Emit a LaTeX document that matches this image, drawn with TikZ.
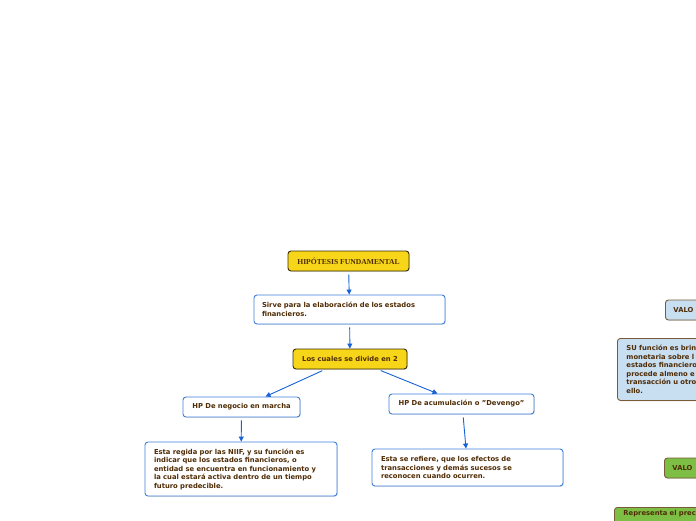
\documentclass[tikz,border=0pt]{standalone}
\usepackage{fontspec}
\setmainfont{DejaVu Sans}
\newfontfamily\titlefont{Liberation Serif}
\usepackage{tikz}
\usetikzlibrary{positioning,arrows.meta,shadows}

\definecolor{ybox}{HTML}{F7D619}
\definecolor{yline}{HTML}{3A2C05}
\definecolor{bline}{HTML}{3D7FD9}
\definecolor{txt}{HTML}{4F2C05}
\definecolor{lblue}{HTML}{C8DEF1}
\definecolor{lgreen}{HTML}{7DBF45}
\definecolor{bbrown}{HTML}{7A5A38}
\definecolor{arrowc}{HTML}{1662D6}

\tikzset{
  base/.style={rounded corners=3pt, line width=0.9pt, text=txt,
    font=\bfseries\fontsize{6.8}{8.5}\selectfont,
    drop shadow={opacity=0.25, shadow xshift=0.8pt, shadow yshift=-0.8pt}},
  yellowbox/.style={base, draw=yline, fill=ybox, minimum height=20pt},
  whitebox/.style={base, draw=bline, fill=white, minimum height=20pt},
  textbox/.style={base, draw=bline, fill=white, align=left, inner xsep=8pt},
  valuebox/.style={base, draw=bbrown, fill=lblue, minimum height=20pt, anchor=west, minimum width=60pt, text width=44pt, inner xsep=8pt, align=left},
  greenbox/.style={base, draw=bbrown, fill=lgreen, minimum height=20pt, anchor=west, minimum width=60pt, text width=44pt, inner xsep=8pt, align=left},
  flow/.style={draw=arrowc, line width=0.9pt, -{Triangle[length=5pt,width=5pt]}, shorten <=3pt}
}

\begin{document}
\begin{tikzpicture}[x=1pt,y=-1pt]
  \useasboundingbox (0,0) rectangle (696,520);
  \clip (0,0) rectangle (696,520);

  % main column
  \node[yellowbox, minimum width=121pt, font=\titlefont\bfseries\fontsize{7.6}{8}\selectfont] (hipotesis) at (348.5,261) {HIPÓTESIS FUNDAMENTAL};
  \node[textbox, minimum width=191pt, minimum height=29pt, text width=175pt] (sirve) at (349.5,309.5)
    {Sirve para la elaboración de los estados\\financieros.};
  \node[yellowbox, minimum width=114pt] (cuales) at (350,359) {Los cuales se divide en 2};

  % left branch
  \node[whitebox, minimum width=117pt] (negocio) at (241.5,407) {HP De negocio en marcha};
  \node[textbox, minimum width=192pt, minimum height=54pt, text width=174pt, inner xsep=9pt] (negociotxt) at (241,469)
    {Esta regida por las NIIF, y su función es\\indicar que los estados financieros, o\\entidad se encuentra en funcionamiento y\\la cual estará activa dentro de un tiempo\\futuro predecible.};

  % right branch
  \node[whitebox, minimum width=145pt] (acum) at (461.5,404) {HP De acumulación o "Devengo"};
  \node[textbox, minimum width=191pt, minimum height=37pt, text width=173pt, inner xsep=9pt] (acumtxt) at (467.5,467.5)
    {Esta se refiere, que los efectos de\\transacciones y demás sucesos se\\reconocen cuando ocurren.};

  % cut-off nodes at the right edge
  \node[valuebox] (valor1) at (665,310) {VALO};
  \node[base, draw=bbrown, fill=lblue, anchor=north west, minimum width=100pt, minimum height=62pt, text width=82pt, inner xsep=9pt, align=left] (valor1txt) at (617,338)
    {SU función es brin\\monetaria sobre l\\estados financiero\\procede almeno e\\transacción u otro\\ello.};
  \node[greenbox] (valor2) at (664,468) {VALO};
  \node[base, draw=bbrown, fill=lgreen, anchor=north west, minimum width=100pt, text width=82pt, inner xsep=9pt, inner ysep=3pt, text depth=12pt, align=left] (valor2txt) at (614,507)
    {Representa el prec};

  % connectors
  \draw[flow] (hipotesis) -- (sirve);
  \draw[flow] (sirve) -- (cuales);
  \draw[flow] ([xshift=-25pt]cuales.south) -- ([xshift=24pt]negocio.north);
  \draw[flow] ([xshift=28pt]cuales.south) -- ([xshift=-24pt]acum.north);
  \draw[flow] (negocio) -- (negociotxt);
  \draw[flow] ([xshift=1.5pt]acum.south) -- ([xshift=-1.5pt]acumtxt.north);
\end{tikzpicture}
\end{document}
